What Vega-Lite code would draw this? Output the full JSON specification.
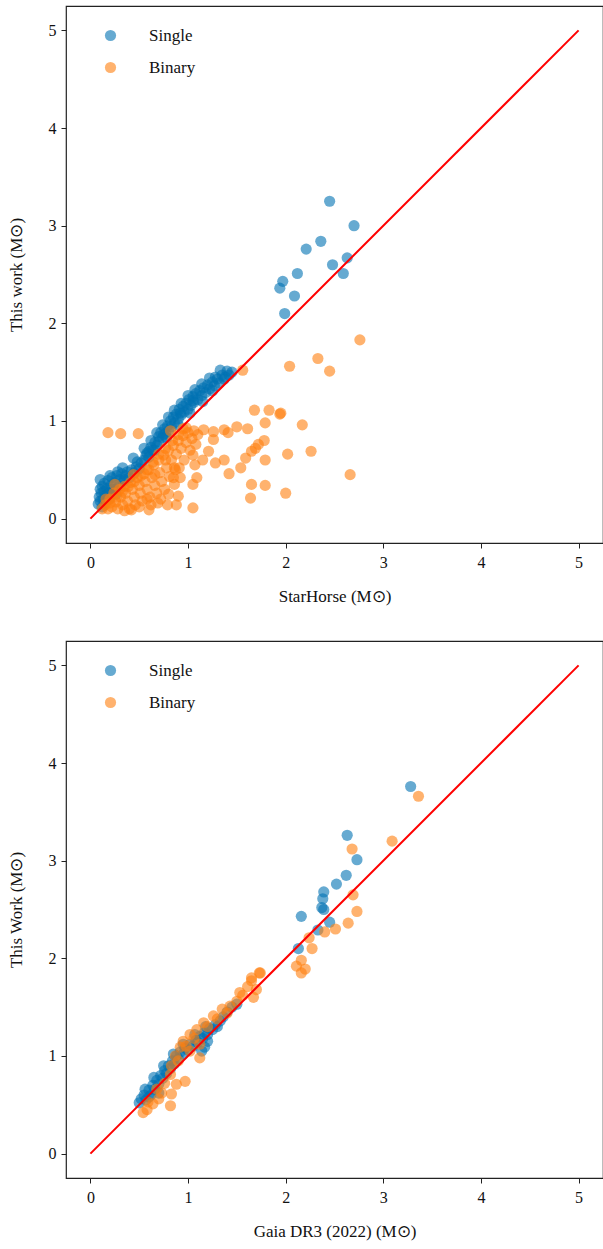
{
  "$schema": "https://vega.github.io/schema/vega-lite/v6.json",
  "background": "white",
  "padding": {"left": 6, "top": 5, "right": 0, "bottom": 5},
  "bounds": "flush",
  "spacing": 98,
  "config": {
    "font": "Liberation Serif",
    "view": {"stroke": "#222222", "strokeWidth": 1.2},
    "axis": {
      "domain": false, "grid": false, "ticks": true, "tickSize": 5, "tickColor": "#222222", "tickWidth": 1,
      "labelFont": "Liberation Serif", "labelFontSize": 16, "labelColor": "#111111",
      "titleFont": "Liberation Serif", "titleFontSize": 17, "titleFontWeight": "normal", "titleColor": "#111111"
    },
    "axisX": {"labelPadding": 6, "titlePadding": 18},
    "axisY": {"labelPadding": 5, "titlePadding": 23}
  },
  "datasets": {
    "line": [{"x": 0, "y": 0}, {"x": 5, "y": 5}],
    "sh": [
      {"type":"Single","x":0.08,"y":0.15},{"type":"Single","x":0.09,"y":0.22},{"type":"Single","x":0.1,"y":0.3},{"type":"Single","x":0.1,"y":0.18},
      {"type":"Single","x":0.11,"y":0.26},{"type":"Single","x":0.12,"y":0.33},{"type":"Single","x":0.12,"y":0.12},{"type":"Single","x":0.13,"y":0.2},
      {"type":"Single","x":0.14,"y":0.28},{"type":"Single","x":0.14,"y":0.36},{"type":"Single","x":0.15,"y":0.16},{"type":"Single","x":0.16,"y":0.24},
      {"type":"Single","x":0.17,"y":0.31},{"type":"Single","x":0.18,"y":0.39},{"type":"Single","x":0.19,"y":0.2},{"type":"Single","x":0.2,"y":0.27},
      {"type":"Single","x":0.21,"y":0.34},{"type":"Single","x":0.22,"y":0.42},{"type":"Single","x":0.23,"y":0.3},{"type":"Single","x":0.25,"y":0.37},
      {"type":"Single","x":0.26,"y":0.25},{"type":"Single","x":0.27,"y":0.44},{"type":"Single","x":0.29,"y":0.33},{"type":"Single","x":0.3,"y":0.4},
      {"type":"Single","x":0.32,"y":0.46},{"type":"Single","x":0.34,"y":0.38},{"type":"Single","x":0.36,"y":0.44},{"type":"Single","x":0.38,"y":0.48},
      {"type":"Single","x":0.4,"y":0.42},{"type":"Single","x":0.42,"y":0.5},{"type":"Single","x":0.44,"y":0.62},{"type":"Single","x":0.45,"y":0.47},
      {"type":"Single","x":0.47,"y":0.53},{"type":"Single","x":0.5,"y":0.51},{"type":"Single","x":0.52,"y":0.57},{"type":"Single","x":0.55,"y":0.6},
      {"type":"Single","x":0.57,"y":0.65},{"type":"Single","x":0.6,"y":0.69},{"type":"Single","x":0.6,"y":0.63},{"type":"Single","x":0.62,"y":0.73},
      {"type":"Single","x":0.64,"y":0.7},{"type":"Single","x":0.66,"y":0.78},{"type":"Single","x":0.68,"y":0.75},{"type":"Single","x":0.7,"y":0.84},
      {"type":"Single","x":0.7,"y":0.79},{"type":"Single","x":0.72,"y":0.88},{"type":"Single","x":0.74,"y":0.83},{"type":"Single","x":0.76,"y":0.92},
      {"type":"Single","x":0.77,"y":0.87},{"type":"Single","x":0.79,"y":0.95},{"type":"Single","x":0.8,"y":0.9},{"type":"Single","x":0.82,"y":1.0},
      {"type":"Single","x":0.83,"y":0.94},{"type":"Single","x":0.85,"y":1.04},{"type":"Single","x":0.86,"y":0.98},{"type":"Single","x":0.88,"y":1.07},
      {"type":"Single","x":0.9,"y":1.02},{"type":"Single","x":0.91,"y":1.12},{"type":"Single","x":0.93,"y":1.06},{"type":"Single","x":0.95,"y":1.15},
      {"type":"Single","x":0.96,"y":1.09},{"type":"Single","x":0.98,"y":1.18},{"type":"Single","x":1.0,"y":1.12},{"type":"Single","x":1.01,"y":1.22},
      {"type":"Single","x":1.03,"y":1.16},{"type":"Single","x":1.05,"y":1.25},{"type":"Single","x":1.06,"y":1.19},{"type":"Single","x":1.08,"y":1.28},
      {"type":"Single","x":1.1,"y":1.22},{"type":"Single","x":1.12,"y":1.31},{"type":"Single","x":1.14,"y":1.26},{"type":"Single","x":1.16,"y":1.34},
      {"type":"Single","x":1.18,"y":1.29},{"type":"Single","x":1.2,"y":1.37},{"type":"Single","x":1.22,"y":1.33},{"type":"Single","x":1.25,"y":1.4},
      {"type":"Single","x":1.27,"y":1.36},{"type":"Single","x":1.3,"y":1.43},{"type":"Single","x":1.32,"y":1.39},{"type":"Single","x":1.35,"y":1.47},
      {"type":"Single","x":1.37,"y":1.43},{"type":"Single","x":1.33,"y":1.52},{"type":"Single","x":1.4,"y":1.51},{"type":"Single","x":1.42,"y":1.47},
      {"type":"Single","x":1.45,"y":1.5},{"type":"Single","x":1.28,"y":1.45},{"type":"Single","x":1.05,"y":1.21},{"type":"Single","x":0.92,"y":1.08},
      {"type":"Single","x":0.75,"y":0.86},{"type":"Single","x":0.58,"y":0.67},{"type":"Single","x":0.48,"y":0.58},{"type":"Single","x":0.35,"y":0.4},
      {"type":"Single","x":0.25,"y":0.3},{"type":"Single","x":0.18,"y":0.25},
      {"type":"Single","x":0.55,"y":0.72},{"type":"Single","x":0.62,"y":0.8},{"type":"Single","x":0.68,"y":0.88},{"type":"Single","x":0.74,"y":0.96},
      {"type":"Single","x":0.8,"y":1.04},{"type":"Single","x":0.86,"y":1.11},{"type":"Single","x":0.93,"y":1.18},{"type":"Single","x":1.0,"y":1.26},
      {"type":"Single","x":1.07,"y":1.32},{"type":"Single","x":1.14,"y":1.38},{"type":"Single","x":1.22,"y":1.44},{"type":"Single","x":0.66,"y":0.7},
      {"type":"Single","x":0.78,"y":0.83},{"type":"Single","x":0.9,"y":0.96},{"type":"Single","x":1.02,"y":1.08},{"type":"Single","x":1.15,"y":1.2},
      {"type":"Single","x":1.25,"y":1.31},{"type":"Single","x":1.38,"y":1.45},{"type":"Single","x":0.28,"y":0.48},{"type":"Single","x":0.2,"y":0.44},
      {"type":"Single","x":0.1,"y":0.4},{"type":"Single","x":0.33,"y":0.52},
      {"type":"Single","x":2.45,"y":3.25},{"type":"Single","x":2.7,"y":3.0},{"type":"Single","x":2.36,"y":2.84},{"type":"Single","x":2.21,"y":2.76},
      {"type":"Single","x":2.48,"y":2.6},{"type":"Single","x":2.63,"y":2.67},{"type":"Single","x":2.59,"y":2.51},{"type":"Single","x":2.12,"y":2.51},
      {"type":"Single","x":1.97,"y":2.43},{"type":"Single","x":1.94,"y":2.36},{"type":"Single","x":2.09,"y":2.28},{"type":"Single","x":1.99,"y":2.1},
      {"type":"Binary","x":0.12,"y":0.1},{"type":"Binary","x":0.15,"y":0.14},{"type":"Binary","x":0.18,"y":0.1},{"type":"Binary","x":0.2,"y":0.2},
      {"type":"Binary","x":0.22,"y":0.12},{"type":"Binary","x":0.24,"y":0.26},{"type":"Binary","x":0.26,"y":0.17},{"type":"Binary","x":0.28,"y":0.1},
      {"type":"Binary","x":0.3,"y":0.3},{"type":"Binary","x":0.31,"y":0.22},{"type":"Binary","x":0.33,"y":0.14},{"type":"Binary","x":0.35,"y":0.33},
      {"type":"Binary","x":0.36,"y":0.26},{"type":"Binary","x":0.38,"y":0.18},{"type":"Binary","x":0.4,"y":0.1},{"type":"Binary","x":0.41,"y":0.37},
      {"type":"Binary","x":0.43,"y":0.3},{"type":"Binary","x":0.45,"y":0.22},{"type":"Binary","x":0.46,"y":0.14},{"type":"Binary","x":0.48,"y":0.42},
      {"type":"Binary","x":0.5,"y":0.34},{"type":"Binary","x":0.51,"y":0.26},{"type":"Binary","x":0.53,"y":0.18},{"type":"Binary","x":0.55,"y":0.46},
      {"type":"Binary","x":0.56,"y":0.38},{"type":"Binary","x":0.58,"y":0.3},{"type":"Binary","x":0.6,"y":0.5},{"type":"Binary","x":0.61,"y":0.22},
      {"type":"Binary","x":0.63,"y":0.42},{"type":"Binary","x":0.65,"y":0.55},{"type":"Binary","x":0.66,"y":0.34},{"type":"Binary","x":0.68,"y":0.26},
      {"type":"Binary","x":0.7,"y":0.6},{"type":"Binary","x":0.71,"y":0.47},{"type":"Binary","x":0.73,"y":0.38},{"type":"Binary","x":0.75,"y":0.65},
      {"type":"Binary","x":0.76,"y":0.3},{"type":"Binary","x":0.78,"y":0.52},{"type":"Binary","x":0.8,"y":0.7},{"type":"Binary","x":0.81,"y":0.43},
      {"type":"Binary","x":0.83,"y":0.6},{"type":"Binary","x":0.85,"y":0.75},{"type":"Binary","x":0.86,"y":0.35},{"type":"Binary","x":0.88,"y":0.66},
      {"type":"Binary","x":0.9,"y":0.8},{"type":"Binary","x":0.91,"y":0.52},{"type":"Binary","x":0.93,"y":0.72},{"type":"Binary","x":0.95,"y":0.85},
      {"type":"Binary","x":0.96,"y":0.6},{"type":"Binary","x":0.98,"y":0.78},{"type":"Binary","x":1.0,"y":0.88},{"type":"Binary","x":1.02,"y":0.7},
      {"type":"Binary","x":1.04,"y":0.82},{"type":"Binary","x":1.06,"y":0.9},{"type":"Binary","x":1.08,"y":0.76},{"type":"Binary","x":1.1,"y":0.86},
      {"type":"Binary","x":0.95,"y":0.92},{"type":"Binary","x":0.5,"y":0.12},{"type":"Binary","x":0.62,"y":0.14},{"type":"Binary","x":0.72,"y":0.2},
      {"type":"Binary","x":0.8,"y":0.25},{"type":"Binary","x":0.58,"y":0.2},{"type":"Binary","x":0.35,"y":0.08},{"type":"Binary","x":0.25,"y":0.35},
      {"type":"Binary","x":0.44,"y":0.45},{"type":"Binary","x":0.66,"y":0.45},{"type":"Binary","x":0.77,"y":0.6},{"type":"Binary","x":0.87,"y":0.5},
      {"type":"Binary","x":0.92,"y":0.42},{"type":"Binary","x":0.16,"y":0.2},{"type":"Binary","x":0.2,"y":0.16},{"type":"Binary","x":0.27,"y":0.22},
      {"type":"Binary","x":0.33,"y":0.28},{"type":"Binary","x":0.39,"y":0.33},{"type":"Binary","x":0.45,"y":0.38},{"type":"Binary","x":0.52,"y":0.44},
      {"type":"Binary","x":0.58,"y":0.5},{"type":"Binary","x":0.64,"y":0.58},{"type":"Binary","x":0.7,"y":0.66},{"type":"Binary","x":0.77,"y":0.72},
      {"type":"Binary","x":0.84,"y":0.8},{"type":"Binary","x":0.9,"y":0.86},{"type":"Binary","x":0.98,"y":0.93},
      {"type":"Binary","x":0.18,"y":0.88},{"type":"Binary","x":0.31,"y":0.87},{"type":"Binary","x":0.49,"y":0.87},{"type":"Binary","x":0.82,"y":0.9},
      {"type":"Binary","x":1.16,"y":0.91},{"type":"Binary","x":1.26,"y":0.89},{"type":"Binary","x":1.37,"y":0.91},{"type":"Binary","x":1.41,"y":0.88},
      {"type":"Binary","x":1.5,"y":0.94},{"type":"Binary","x":1.61,"y":0.92},{"type":"Binary","x":1.26,"y":0.81},{"type":"Binary","x":1.78,"y":0.8},
      {"type":"Binary","x":1.72,"y":0.76},{"type":"Binary","x":1.69,"y":0.72},{"type":"Binary","x":1.65,"y":0.69},{"type":"Binary","x":1.59,"y":0.62},
      {"type":"Binary","x":1.79,"y":0.6},{"type":"Binary","x":2.02,"y":0.66},{"type":"Binary","x":2.26,"y":0.69},{"type":"Binary","x":2.66,"y":0.45},
      {"type":"Binary","x":1.54,"y":0.52},{"type":"Binary","x":1.42,"y":0.46},{"type":"Binary","x":1.65,"y":0.35},{"type":"Binary","x":1.79,"y":0.34},
      {"type":"Binary","x":1.64,"y":0.21},{"type":"Binary","x":2.0,"y":0.26},{"type":"Binary","x":1.21,"y":0.69},{"type":"Binary","x":1.15,"y":0.6},
      {"type":"Binary","x":1.05,"y":0.65},{"type":"Binary","x":1.07,"y":0.55},{"type":"Binary","x":1.28,"y":0.57},{"type":"Binary","x":1.37,"y":0.6},
      {"type":"Binary","x":1.09,"y":0.42},{"type":"Binary","x":1.05,"y":0.35},{"type":"Binary","x":1.05,"y":0.11},{"type":"Binary","x":0.9,"y":0.23},
      {"type":"Binary","x":0.88,"y":0.14},{"type":"Binary","x":0.79,"y":0.14},{"type":"Binary","x":0.69,"y":0.16},{"type":"Binary","x":0.6,"y":0.09},
      {"type":"Binary","x":0.42,"y":0.09},{"type":"Binary","x":0.85,"y":0.42},{"type":"Binary","x":0.86,"y":0.52},
      {"type":"Binary","x":1.68,"y":1.11},{"type":"Binary","x":1.83,"y":1.11},{"type":"Binary","x":1.94,"y":1.07},{"type":"Binary","x":1.95,"y":1.08},
      {"type":"Binary","x":2.17,"y":0.96},{"type":"Binary","x":1.79,"y":0.98},
      {"type":"Binary","x":2.76,"y":1.83},{"type":"Binary","x":2.33,"y":1.64},{"type":"Binary","x":2.04,"y":1.56},{"type":"Binary","x":2.45,"y":1.51},
      {"type":"Binary","x":1.56,"y":1.52}
    ],
    "gaia": [
      {"type":"Single","x":0.5,"y":0.52},{"type":"Single","x":0.52,"y":0.56},{"type":"Single","x":0.55,"y":0.6},{"type":"Single","x":0.57,"y":0.55},
      {"type":"Single","x":0.6,"y":0.65},{"type":"Single","x":0.62,"y":0.6},{"type":"Single","x":0.64,"y":0.7},{"type":"Single","x":0.66,"y":0.66},
      {"type":"Single","x":0.68,"y":0.75},{"type":"Single","x":0.7,"y":0.71},{"type":"Single","x":0.72,"y":0.8},{"type":"Single","x":0.74,"y":0.77},
      {"type":"Single","x":0.76,"y":0.85},{"type":"Single","x":0.78,"y":0.82},{"type":"Single","x":0.8,"y":0.9},{"type":"Single","x":0.82,"y":0.87},
      {"type":"Single","x":0.84,"y":0.95},{"type":"Single","x":0.86,"y":0.92},{"type":"Single","x":0.88,"y":1.0},{"type":"Single","x":0.9,"y":0.97},
      {"type":"Single","x":0.92,"y":1.04},{"type":"Single","x":0.95,"y":1.02},{"type":"Single","x":0.97,"y":1.08},{"type":"Single","x":1.0,"y":1.06},
      {"type":"Single","x":1.02,"y":1.12},{"type":"Single","x":1.05,"y":1.1},{"type":"Single","x":1.08,"y":1.16},{"type":"Single","x":1.1,"y":1.14},
      {"type":"Single","x":1.12,"y":1.2},{"type":"Single","x":1.15,"y":1.18},{"type":"Single","x":1.17,"y":1.24},{"type":"Single","x":1.2,"y":1.22},
      {"type":"Single","x":1.22,"y":1.28},{"type":"Single","x":1.25,"y":1.27},{"type":"Single","x":1.28,"y":1.32},{"type":"Single","x":1.3,"y":1.3},
      {"type":"Single","x":1.33,"y":1.36},{"type":"Single","x":1.36,"y":1.4},{"type":"Single","x":1.4,"y":1.45},{"type":"Single","x":1.45,"y":1.5},
      {"type":"Single","x":1.5,"y":1.53},{"type":"Single","x":1.17,"y":1.09},{"type":"Single","x":1.14,"y":1.05},{"type":"Single","x":1.2,"y":1.15},
      {"type":"Single","x":0.7,"y":0.62},{"type":"Single","x":0.6,"y":0.58},{"type":"Single","x":0.56,"y":0.66},{"type":"Single","x":0.65,"y":0.78},
      {"type":"Single","x":0.75,"y":0.9},{"type":"Single","x":0.85,"y":1.02},{"type":"Single","x":0.95,"y":1.12},{"type":"Single","x":1.07,"y":1.22},
      {"type":"Single","x":1.18,"y":1.3},
      {"type":"Single","x":3.28,"y":3.76},{"type":"Single","x":2.63,"y":3.26},{"type":"Single","x":2.73,"y":3.01},{"type":"Single","x":2.62,"y":2.85},
      {"type":"Single","x":2.52,"y":2.76},{"type":"Single","x":2.39,"y":2.68},{"type":"Single","x":2.38,"y":2.61},{"type":"Single","x":2.37,"y":2.52},
      {"type":"Single","x":2.39,"y":2.5},{"type":"Single","x":2.16,"y":2.43},{"type":"Single","x":2.45,"y":2.37},{"type":"Single","x":2.33,"y":2.29},
      {"type":"Single","x":2.13,"y":2.1},
      {"type":"Binary","x":1.74,"y":1.85},{"type":"Binary","x":1.65,"y":1.77},{"type":"Binary","x":1.7,"y":1.68},{"type":"Binary","x":1.61,"y":1.71},
      {"type":"Binary","x":1.53,"y":1.65},{"type":"Binary","x":1.67,"y":1.6},{"type":"Binary","x":1.5,"y":1.56},{"type":"Binary","x":1.43,"y":1.51},
      {"type":"Binary","x":1.35,"y":1.48},{"type":"Binary","x":1.26,"y":1.41},{"type":"Binary","x":1.16,"y":1.34},{"type":"Binary","x":1.09,"y":1.27},
      {"type":"Binary","x":1.02,"y":1.22},{"type":"Binary","x":0.95,"y":1.15},{"type":"Binary","x":0.92,"y":1.09},{"type":"Binary","x":0.87,"y":1.0},
      {"type":"Binary","x":1.12,"y":0.98},{"type":"Binary","x":1.12,"y":1.12},{"type":"Binary","x":1.02,"y":1.05},{"type":"Binary","x":0.83,"y":0.9},
      {"type":"Binary","x":0.82,"y":0.81},{"type":"Binary","x":0.97,"y":0.74},{"type":"Binary","x":0.88,"y":0.71},{"type":"Binary","x":0.83,"y":0.61},
      {"type":"Binary","x":0.82,"y":0.49},{"type":"Binary","x":0.73,"y":0.62},{"type":"Binary","x":0.7,"y":0.56},{"type":"Binary","x":0.64,"y":0.51},
      {"type":"Binary","x":0.58,"y":0.45},{"type":"Binary","x":0.54,"y":0.42},{"type":"Binary","x":0.59,"y":0.53},{"type":"Binary","x":0.9,"y":0.95},
      {"type":"Binary","x":0.98,"y":1.1},{"type":"Binary","x":1.06,"y":1.18},{"type":"Binary","x":1.2,"y":1.3},{"type":"Binary","x":1.3,"y":1.38},
      {"type":"Binary","x":1.4,"y":1.44},{"type":"Binary","x":1.56,"y":1.62},{"type":"Binary","x":0.76,"y":0.72},{"type":"Binary","x":0.68,"y":0.66},
      {"type":"Binary","x":1.73,"y":1.85},{"type":"Binary","x":1.65,"y":1.8},
      {"type":"Binary","x":3.36,"y":3.66},{"type":"Binary","x":3.09,"y":3.2},{"type":"Binary","x":2.68,"y":3.12},{"type":"Binary","x":2.69,"y":2.65},
      {"type":"Binary","x":2.73,"y":2.48},{"type":"Binary","x":2.64,"y":2.36},{"type":"Binary","x":2.51,"y":2.3},{"type":"Binary","x":2.4,"y":2.27},
      {"type":"Binary","x":2.24,"y":2.21},{"type":"Binary","x":2.27,"y":2.1},{"type":"Binary","x":2.16,"y":1.98},{"type":"Binary","x":2.11,"y":1.92},
      {"type":"Binary","x":2.2,"y":1.89},{"type":"Binary","x":2.16,"y":1.85}
    ]
  },
  "vconcat": [
    {
      "width": 537, "height": 537,
      "layer": [
        {
          "data": {"name": "sh"},
          "mark": {"type": "point", "filled": true, "opacity": 0.6, "size": 125},
          "encoding": {
            "x": {"field": "x", "type": "quantitative", "scale": {"domain": [-0.25, 5.25], "nice": false, "zero": false}, "title": "StarHorse (M⊙)", "axis": {"values": [0, 1, 2, 3, 4, 5], "format": "d"}},
            "y": {"field": "y", "type": "quantitative", "scale": {"domain": [-0.25, 5.25], "nice": false, "zero": false}, "title": "This work (M⊙)", "axis": {"values": [0, 1, 2, 3, 4, 5], "format": "d"}},
            "color": {"field": "type", "type": "nominal", "scale": {"domain": ["Single", "Binary"], "range": ["#0072B2", "#FF7F0E"]},
              "legend": {"orient": "none", "legendX": 36, "legendY": 21, "title": null, "labelFont": "Liberation Serif", "labelFontSize": 17, "labelColor": "#111111", "symbolType": "circle", "symbolSize": 125, "symbolOpacity": 0.6, "symbolStrokeWidth": 0, "labelOffset": 30, "rowPadding": 14}}
          }
        },
        {
          "data": {"name": "line"},
          "mark": {"type": "line", "color": "#FF0000", "strokeWidth": 2},
          "encoding": {
            "x": {"field": "x", "type": "quantitative"},
            "y": {"field": "y", "type": "quantitative"}
          }
        }
      ]
    },
    {
      "width": 537, "height": 537,
      "layer": [
        {
          "data": {"name": "gaia"},
          "mark": {"type": "point", "filled": true, "opacity": 0.6, "size": 125},
          "encoding": {
            "x": {"field": "x", "type": "quantitative", "scale": {"domain": [-0.25, 5.25], "nice": false, "zero": false}, "title": "Gaia DR3 (2022) (M⊙)", "axis": {"values": [0, 1, 2, 3, 4, 5], "format": "d"}},
            "y": {"field": "y", "type": "quantitative", "scale": {"domain": [-0.25, 5.25], "nice": false, "zero": false}, "title": "This Work (M⊙)", "axis": {"values": [0, 1, 2, 3, 4, 5], "format": "d"}},
            "color": {"field": "type", "type": "nominal", "scale": {"domain": ["Single", "Binary"], "range": ["#0072B2", "#FF7F0E"]},
              "legend": {"orient": "none", "legendX": 36, "legendY": 21, "title": null, "labelFont": "Liberation Serif", "labelFontSize": 17, "labelColor": "#111111", "symbolType": "circle", "symbolSize": 125, "symbolOpacity": 0.6, "symbolStrokeWidth": 0, "labelOffset": 30, "rowPadding": 14}}
          }
        },
        {
          "data": {"name": "line"},
          "mark": {"type": "line", "color": "#FF0000", "strokeWidth": 2},
          "encoding": {
            "x": {"field": "x", "type": "quantitative"},
            "y": {"field": "y", "type": "quantitative"}
          }
        }
      ]
    }
  ],
  "resolve": {"legend": {"color": "independent"}, "scale": {"color": "independent"}}
}
